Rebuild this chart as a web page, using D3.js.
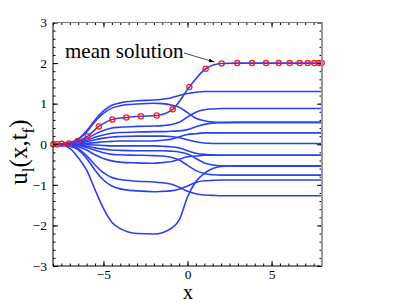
<!DOCTYPE html>
<html>
<head>
<meta charset="utf-8">
<script src="https://cdn.jsdelivr.net/npm/d3@7"></script>
<style>
  body { margin: 0; background: #fff; }
  text { font-family: "Liberation Serif", "Times New Roman", serif; }
</style>
</head>
<body>
<svg id="chart" width="399" height="306"></svg>
<script>
// common x grid for the sample solutions
const xGrid = [-8, -7.5, -7, -6.5, -6, -5.5, -5, -4.5, -4, -3, -2, -1.5, -1, -0.5, 0, 0.5, 1, 1.5, 2, 3, 5, 8];

// sample solutions u_l(x, t_f)
const sol01 = [0, .01, .04, .13, .33, .6, .82, .96, 1.02, 1.07, 1.09, 1.11, 1.14, 1.2, 1.25, 1.28, 1.3, 1.3, 1.3, 1.3, 1.3, 1.3];
const sol02 = [0, .01, .04, .12, .3, .56, .76, .89, .95, .99, 1.01, 1.0, .97, .91, .78, .64, .58, .55, .54, .54, .54, .54];
const sol03 = [0, 0, .02, .05, .14, .25, .34, .4, .42, .44, .45, .46, .48, .54, .67, .79, .85, .87, .88, .88, .88, .88];
const sol04 = [0, 0, .01, .04, .09, .17, .23, .27, .29, .3, .31, .31, .32, .33, .36, .43, .49, .52, .53, .54, .54, .54];
const sol05 = [0, 0, .01, .02, .06, .11, .15, .18, .19, .2, .2, .2, .19, .16, .11, .06, .03, .02, .02, .02, .02, .02];
const sol06 = [0, 0, 0, .01, .02, .04, .06, .07, .08, .08, .08, .1, .12, .18, .24, .26, .28, .28, .28, .28, .28, .28];
const sol07 = [0, 0, 0, 0, -.01, -.02, -.03, -.04, -.04, -.04, -.04, -.05, -.06, -.09, -.16, -.22, -.25, -.26, -.27, -.27, -.27, -.27];
const sol08 = [0, 0, -.01, -.02, -.05, -.09, -.12, -.14, -.15, -.16, -.16, -.16, -.17, -.19, -.24, -.35, -.46, -.51, -.53, -.54, -.54, -.54];
const sol09 = [0, 0, -.01, -.03, -.08, -.15, -.21, -.25, -.26, -.27, -.28, -.29, -.32, -.39, -.52, -.65, -.72, -.75, -.76, -.76, -.76, -.76];
const sol10 = [0, 0, -.02, -.06, -.14, -.26, -.35, -.41, -.44, -.46, -.47, -.45, -.43, -.37, -.31, -.29, -.27, -.27, -.27, -.27, -.27, -.27];
const sol11 = [0, -.01, -.04, -.11, -.28, -.51, -.7, -.82, -.87, -.91, -.93, -.95, -.98, -1.06, -1.16, -1.22, -1.25, -1.26, -1.27, -1.27, -1.27, -1.27];
const sol12 = [0, -.01, -.05, -.14, -.35, -.64, -.88, -1.03, -1.1, -1.15, -1.17, -1.16, -1.15, -1.11, -1.03, -.94, -.9, -.89, -.88, -.88, -.88, -.88];
const sol13 = [0, -.02, -.1, -.33, -.64, -1.12, -1.58, -1.92, -2.08, -2.2, -2.21, -2.18, -2.08, -1.87, -1.3, -.92, -.72, -.6, -.55, -.53, -.53, -.53];

// mean solution, marker positions
const meanX = [-7.98, -7.75, -7.47, -7.05, -6.53, -5.94, -5.27, -4.47, -3.64, -2.77, -1.83, -0.88, 0.11,
               1.08, 2.03, 2.96, 3.84, 4.67, 5.43, 6.08, 6.67, 7.15, 7.54, 7.82, 7.98];
const meanY = [0, 0, 0.01, 0.02, 0.08, 0.2, 0.44, 0.61, 0.66, 0.69, 0.71, 0.86, 1.41,
               1.86, 1.99, 2.0, 2.0, 2.0, 2.0, 2.0, 2.0, 2.0, 2.0, 2.0, 2.0];

const xTicks = [-5, 0, 5];
const yTicks = [-3, -2, -1, 0, 1, 2, 3];

const solutions = [sol01, sol02, sol03, sol04, sol05, sol06, sol07, sol08, sol09, sol10, sol11, sol12, sol13];

const serif = '"Liberation Serif", "Times New Roman", serif';
const svg = d3.select("#chart");
const x = d3.scaleLinear().domain([-8, 8]).range([53, 322]);
const y = d3.scaleLinear().domain([-3, 3]).range([266, 22.5]);
const blue = "#2a40f2";

const line = d3.line()
    .x((d) => x(d[0]))
    .y((d) => y(d[1]))
    .curve(d3.curveMonotoneX);

const plot = svg.append("g");

solutions.forEach((s) => {
    plot.append("path")
        .attr("d", line(xGrid.map((v, i) => [v, s[i]])))
        .attr("fill", "none")
        .attr("stroke", blue)
        .attr("stroke-width", 1.6);
});

const meanPts = meanX.map((v, i) => [v, meanY[i]]);
plot.append("path")
    .attr("d", line(meanPts))
    .attr("fill", "none")
    .attr("stroke", blue)
    .attr("stroke-width", 1.6);

plot.selectAll("circle")
    .data(meanPts)
    .enter()
    .append("circle")
    .attr("cx", (d) => x(d[0]))
    .attr("cy", (d) => y(d[1]))
    .attr("r", 2.6)
    .attr("fill", "none")
    .attr("stroke", "#ff1a1a")
    .attr("stroke-width", 1.3);

// axes, ticks pointing inward like matlab
const minorX = d3.range(-8, 8.001, 0.5);
const minorY = d3.range(-3, 3.001, 0.2);

function styleAxis(g) {
    g.attr("font-family", serif).attr("font-size", 13);
    g.selectAll("text")
        .style("font-family", serif)
        .style("font-size", "13.5px")
        .attr("fill", "#000");
    g.selectAll("line").attr("stroke", "#000");
    g.select(".domain").remove();
}

svg.append("g").attr("transform", "translate(0,266)")
    .call(d3.axisBottom(x).tickValues(minorX).tickSize(-2.5).tickFormat(""))
    .call(styleAxis);
svg.append("g").attr("transform", "translate(0,266)")
    .call(d3.axisBottom(x).tickValues(xTicks).tickSize(-5).tickPadding(3).tickFormat(d3.format("d")))
    .call(styleAxis);
svg.append("g").attr("transform", "translate(0,22.5)")
    .call(d3.axisTop(x).tickValues(minorX).tickSize(-2.5).tickFormat(""))
    .call(styleAxis);
svg.append("g").attr("transform", "translate(0,22.5)")
    .call(d3.axisTop(x).tickValues(xTicks).tickSize(-5).tickFormat(""))
    .call(styleAxis);

svg.append("g").attr("transform", "translate(53,0)")
    .call(d3.axisLeft(y).tickValues(minorY).tickSize(-2.5).tickFormat(""))
    .call(styleAxis);
svg.append("g").attr("transform", "translate(53,0)")
    .call(d3.axisLeft(y).tickValues(yTicks).tickSize(-5).tickPadding(6).tickFormat(d3.format("d")))
    .call(styleAxis);
svg.append("g").attr("transform", "translate(322,0)")
    .call(d3.axisRight(y).tickValues(minorY).tickSize(-2.5).tickFormat(""))
    .call(styleAxis);
svg.append("g").attr("transform", "translate(322,0)")
    .call(d3.axisRight(y).tickValues(yTicks).tickSize(-5).tickFormat(""))
    .call(styleAxis);

// box
svg.append("line").attr("x1", 53).attr("x2", 53).attr("y1", 22.5).attr("y2", 266).attr("stroke", "#000");
svg.append("line").attr("x1", 53).attr("x2", 322).attr("y1", 266).attr("y2", 266).attr("stroke", "#000");
svg.append("line").attr("x1", 53).attr("x2", 322).attr("y1", 22.5).attr("y2", 22.5).attr("stroke", "#777");
svg.append("line").attr("x1", 322).attr("x2", 322).attr("y1", 22.5).attr("y2", 266).attr("stroke", "#999").attr("stroke-width", 2);

// labels
svg.append("text")
    .attr("x", 188).attr("y", 299)
    .attr("text-anchor", "middle")
    .style("font-size", "20px")
    .text("x");

const yl = svg.append("text")
    .attr("transform", "translate(27,152) rotate(-90)")
    .attr("text-anchor", "middle")
    .style("font-size", "25px");
yl.append("tspan").text("u");
yl.append("tspan").attr("dy", 7).style("font-size", "17px").text("l");
yl.append("tspan").attr("dy", -7).text("(x,t");
yl.append("tspan").attr("dy", 7).style("font-size", "17px").text("f");
yl.append("tspan").attr("dy", -7).text(")");

// annotation
svg.append("defs").append("marker")
    .attr("id", "arrow")
    .attr("viewBox", "0 0 10 10")
    .attr("refX", 10).attr("refY", 5)
    .attr("markerWidth", 8).attr("markerHeight", 8)
    .attr("orient", "auto")
    .append("path")
    .attr("d", "M0,1.5 L10,5 L0,8.5 Z")
    .attr("fill", "#000");

svg.append("text")
    .attr("x", 65).attr("y", 58)
    .style("font-size", "21px")
    .text("mean solution");

svg.append("line")
    .attr("x1", 184).attr("y1", 53)
    .attr("x2", x(1.6)).attr("y2", 62)
    .attr("stroke", "#000")
    .attr("stroke-width", 0.7)
    .attr("marker-end", "url(#arrow)");
</script>
</body>
</html>
